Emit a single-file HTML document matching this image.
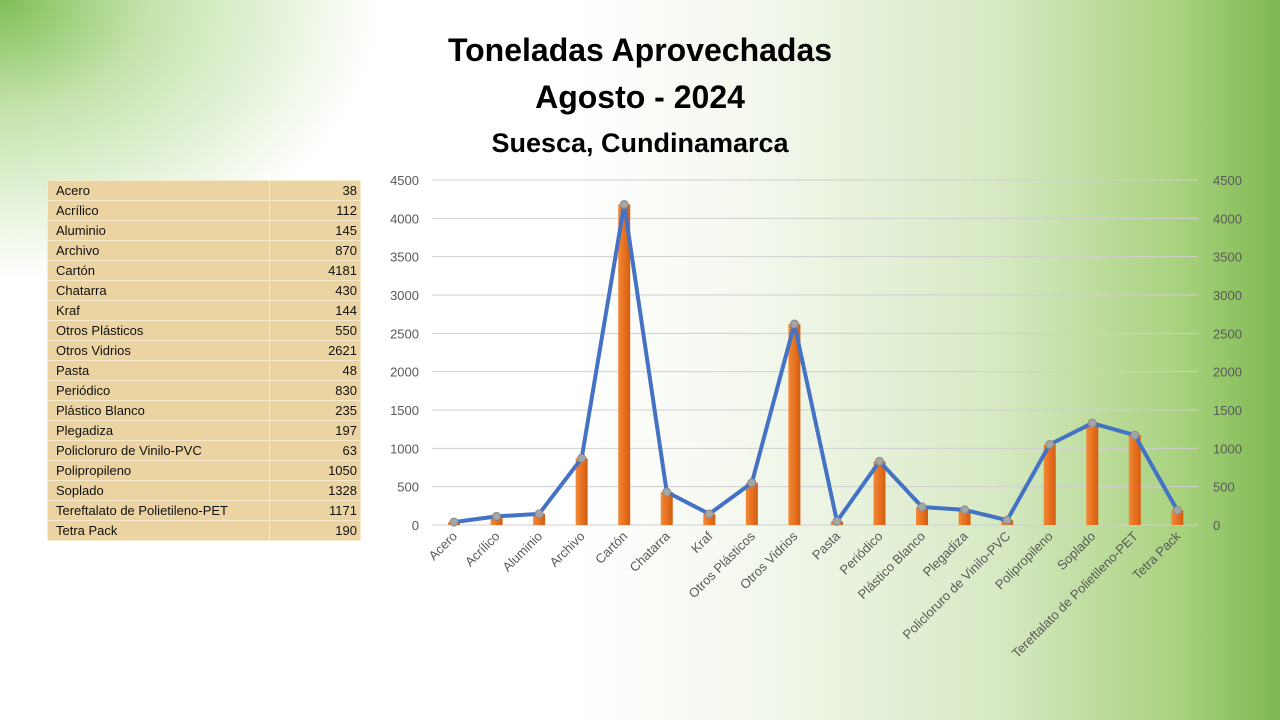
<!DOCTYPE html>
<html><head><meta charset="utf-8"><style>
body{margin:0;width:1280px;height:720px;overflow:hidden;font-family:"Liberation Sans",sans-serif;
background:
radial-gradient(ellipse 380px 280px at 0px 0px,#7fbf55 0%,rgba(160,210,120,.6) 40%,rgba(255,255,255,0) 100%),
linear-gradient(90deg,#fff 0%,#fff 45%,#f2f7ec 60%,#d7e9c3 78%,#a9d27f 92%,#7db850 100%);}
.t{position:absolute;left:0;width:1280px;text-align:center;font-weight:bold;color:#000}
table{position:absolute;left:47px;top:180px;border-collapse:collapse;font-size:13px;background:#ebd4a2;table-layout:fixed;width:313px}
td{height:19px;padding:0 0 0 8px;border:1px solid #f6ead0;color:#111;line-height:19px;white-space:nowrap;overflow:hidden}
td.n{text-align:right;padding:0 3px 0 0;width:87px}
td.l{width:213px}
</style></head><body>
<div class="t" style="top:32px;font-size:32px">Toneladas Aprovechadas</div>
<div class="t" style="top:79px;font-size:32px">Agosto - 2024</div>
<div class="t" style="top:128px;font-size:27px">Suesca, Cundinamarca</div>
<table>
<tr><td class="l">Acero</td><td class="n">38</td></tr>
<tr><td class="l">Acrílico</td><td class="n">112</td></tr>
<tr><td class="l">Aluminio</td><td class="n">145</td></tr>
<tr><td class="l">Archivo</td><td class="n">870</td></tr>
<tr><td class="l">Cartón</td><td class="n">4181</td></tr>
<tr><td class="l">Chatarra</td><td class="n">430</td></tr>
<tr><td class="l">Kraf</td><td class="n">144</td></tr>
<tr><td class="l">Otros Plásticos</td><td class="n">550</td></tr>
<tr><td class="l">Otros Vidrios</td><td class="n">2621</td></tr>
<tr><td class="l">Pasta</td><td class="n">48</td></tr>
<tr><td class="l">Periódico</td><td class="n">830</td></tr>
<tr><td class="l">Plástico Blanco</td><td class="n">235</td></tr>
<tr><td class="l">Plegadiza</td><td class="n">197</td></tr>
<tr><td class="l">Policloruro de Vinilo-PVC</td><td class="n">63</td></tr>
<tr><td class="l">Polipropileno</td><td class="n">1050</td></tr>
<tr><td class="l">Soplado</td><td class="n">1328</td></tr>
<tr><td class="l">Tereftalato de Polietileno-PET</td><td class="n">1171</td></tr>
<tr><td class="l">Tetra Pack</td><td class="n">190</td></tr>
</table>
<svg id="s" width="1280" height="720" style="position:absolute;left:0;top:0" font-family="Liberation Sans, sans-serif"></svg>
<script>
var names=["Acero","Acrílico","Aluminio","Archivo","Cartón","Chatarra","Kraf","Otros Plásticos","Otros Vidrios","Pasta","Periódico","Plástico Blanco","Plegadiza","Policloruro de Vinilo-PVC","Polipropileno","Soplado","Tereftalato de Polietileno-PET","Tetra Pack"];
var v=[38,112,145,870,4181,430,144,550,2621,48,830,235,197,63,1050,1328,1171,190];
var s="",y0=525,k=345/4500;
s+='<defs><linearGradient id="g" x1="0" x2="1"><stop offset="0" stop-color="#f08a3a"/><stop offset=".5" stop-color="#e8711f"/><stop offset="1" stop-color="#d05f12"/></linearGradient></defs>';
for(var i=0;i<=9;i++){var y=y0-i*500*k;
s+='<line x1="432" x2="1198" y1="'+y+'" y2="'+y+'" stroke="#cfcfcf" stroke-width="1"/>';
s+='<text x="419" y="'+(y+5)+'" text-anchor="end" font-size="13" fill="#595959">'+i*500+'</text>';
s+='<text x="1213" y="'+(y+5)+'" font-size="13" fill="#595959">'+i*500+'</text>';}
var pts=[];
for(var i=0;i<18;i++){var x=454+i*42.55,h=v[i]*k;
s+='<rect x="'+(x-6)+'" y="'+(y0-h)+'" width="12" height="'+h+'" fill="url(#g)"/>';
pts.push(x+","+(y0-h));
s+='<text transform="translate('+(x+4)+',537) rotate(-45)" text-anchor="end" font-size="13" fill="#595959">'+names[i]+'</text>';}
s+='<polyline points="'+pts.join(" ")+'" fill="none" stroke="#4472c4" stroke-width="4" stroke-linejoin="round"/>';
pts.forEach(function(p){var a=p.split(",");s+='<circle cx="'+a[0]+'" cy="'+a[1]+'" r="4" fill="#a5a5a5" stroke="#8a8a8a"/>';});
document.getElementById("s").innerHTML=s;
</script>
</body></html>
